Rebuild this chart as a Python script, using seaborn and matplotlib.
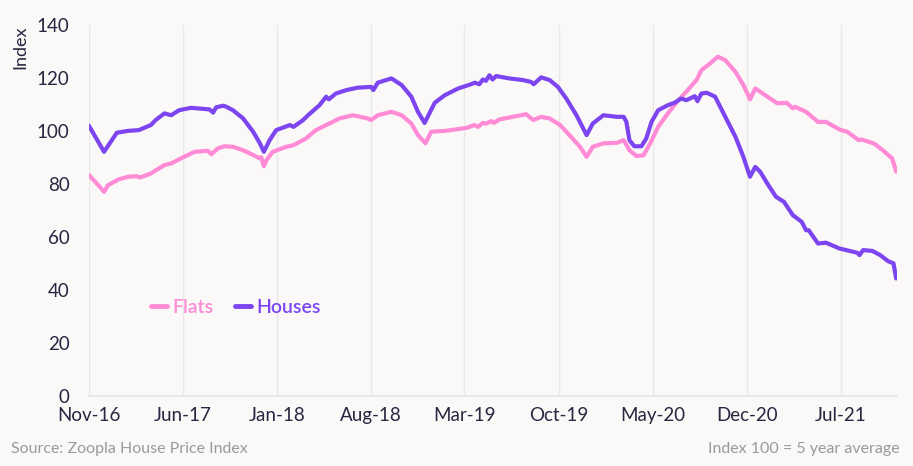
import pandas as pd
import matplotlib.pyplot as plt
import matplotlib.dates as mdates
import seaborn as sns

## Houses series (Index, 100 = 5 year average)
houses_dates = [
    "2016-11-01", "2016-12-05", "2017-01-03", "2017-01-28", "2017-02-22", "2017-03-21",
    "2017-04-01", "2017-04-21", "2017-05-06", "2017-05-24", "2017-06-20", "2017-08-01",
    "2017-08-09", "2017-08-16", "2017-09-01", "2017-09-08", "2017-09-23", "2017-10-16",
    "2017-11-08", "2017-11-23", "2017-12-02", "2017-12-15", "2017-12-30", "2018-01-30",
    "2018-02-07", "2018-03-01", "2018-03-10", "2018-04-07", "2018-04-22", "2018-04-28",
    "2018-05-14", "2018-06-07", "2018-07-02", "2018-08-02", "2018-08-07", "2018-08-17",
    "2018-09-17", "2018-10-10", "2018-11-01", "2018-11-16", "2018-12-01", "2018-12-24",
    "2019-01-16", "2019-02-15", "2019-03-16", "2019-03-25", "2019-04-04", "2019-04-12",
    "2019-04-19", "2019-04-27", "2019-05-04", "2019-05-12", "2019-06-11", "2019-07-11",
    "2019-07-30", "2019-08-05", "2019-08-22", "2019-09-10", "2019-09-29", "2019-10-18",
    "2019-11-10", "2019-12-03", "2019-12-17", "2020-01-10", "2020-02-10", "2020-02-25",
    "2020-03-02", "2020-03-09", "2020-03-20", "2020-04-05", "2020-04-16", "2020-04-28",
    "2020-05-13", "2020-06-04", "2020-06-19", "2020-07-04", "2020-07-16", "2020-08-04",
    "2020-08-10", "2020-08-19", "2020-08-31", "2020-09-19", "2020-10-12", "2020-11-04",
    "2020-11-22", "2020-12-07", "2020-12-19", "2020-12-30", "2021-01-15", "2021-02-04",
    "2021-02-22", "2021-03-14", "2021-04-03", "2021-04-13", "2021-04-19", "2021-05-10",
    "2021-05-28", "2021-06-28", "2021-08-07", "2021-08-12", "2021-08-20", "2021-09-10",
    "2021-09-28", "2021-10-16", "2021-10-28", "2021-11-03",
]
houses = [
    102.0, 92.2, 99.4, 100.1, 100.4, 102.3,
    104.2, 106.7, 106.0, 107.9, 108.8, 108.2,
    107.0, 109.0, 109.6, 109.2, 107.9, 104.8,
    99.7, 95.4, 92.2, 96.6, 100.4, 102.3,
    101.6, 104.2, 105.7, 109.8, 113.0, 112.0,
    114.2, 115.5, 116.4, 116.7, 115.5, 118.3,
    119.9, 117.4, 113.0, 107.3, 103.1, 110.7,
    113.6, 116.1, 117.7, 118.3, 117.7, 119.5,
    119.0, 121.1, 119.5, 120.8, 119.9, 119.3,
    118.6, 117.7, 120.3, 119.3, 116.7, 112.3,
    106.0, 98.5, 102.9, 106.0, 105.4, 105.4,
    103.5, 96.6, 94.3, 94.3, 97.2, 103.5,
    107.9, 109.8, 110.7, 112.3, 111.7, 113.2,
    111.3, 114.2, 114.5, 113.0, 105.4, 97.9,
    90.3, 82.8, 86.5, 84.7, 80.3, 75.2,
    73.3, 68.3, 65.8, 62.6, 62.6, 57.6,
    57.9, 55.7, 54.1, 53.2, 55.1, 54.8,
    53.2, 50.9, 50.1, 44.4,
]

## Flats series
flats_dates = [
    "2016-11-01", "2016-11-22", "2016-12-05", "2016-12-14", "2017-01-07", "2017-01-29",
    "2017-02-17", "2017-02-25", "2017-03-21", "2017-04-02", "2017-04-21", "2017-05-06",
    "2017-05-28", "2017-06-28", "2017-07-28", "2017-08-05", "2017-08-20", "2017-09-04",
    "2017-09-23", "2017-10-16", "2017-11-08", "2017-11-23", "2017-11-26", "2017-12-02",
    "2017-12-08", "2017-12-22", "2018-01-22", "2018-02-07", "2018-03-07", "2018-03-30",
    "2018-04-22", "2018-05-07", "2018-05-22", "2018-06-22", "2018-07-25", "2018-08-02",
    "2018-08-17", "2018-09-17", "2018-10-10", "2018-11-01", "2018-11-16", "2018-12-03",
    "2018-12-16", "2019-01-16", "2019-02-08", "2019-03-08", "2019-03-23", "2019-04-01",
    "2019-04-12", "2019-04-19", "2019-05-01", "2019-05-07", "2019-05-19", "2019-06-19",
    "2019-07-19", "2019-08-04", "2019-08-22", "2019-09-10", "2019-10-04", "2019-10-25",
    "2019-11-18", "2019-12-03", "2019-12-17", "2020-01-10", "2020-02-10", "2020-02-25",
    "2020-03-09", "2020-03-25", "2020-04-10", "2020-04-25", "2020-05-13", "2020-06-04",
    "2020-06-28", "2020-07-19", "2020-08-08", "2020-08-19", "2020-09-08", "2020-09-25",
    "2020-10-12", "2020-11-04", "2020-11-22", "2020-12-07", "2020-12-19", "2020-12-30",
    "2021-01-10", "2021-02-07", "2021-02-28", "2021-03-14", "2021-03-19", "2021-04-13",
    "2021-05-10", "2021-05-28", "2021-06-28", "2021-07-16", "2021-08-10", "2021-08-16",
    "2021-09-13", "2021-10-04", "2021-10-25", "2021-11-03",
]
flats = [
    83.4, 79.6, 77.1, 79.6, 81.8, 82.8,
    83.0, 82.5, 84.0, 85.3, 87.2, 87.8,
    89.7, 92.2, 92.6, 91.3, 93.5, 94.3,
    94.1, 92.8, 91.0, 89.7, 90.2, 86.8,
    89.1, 92.2, 94.1, 94.7, 97.2, 100.4,
    102.3, 103.5, 104.8, 106.0, 104.8, 104.2,
    106.0, 107.3, 106.0, 102.9, 98.5, 95.4,
    99.8, 100.1, 100.6, 101.3, 102.3, 101.6,
    103.1, 102.8, 103.8, 103.1, 104.4, 105.4,
    106.4, 104.2, 105.4, 104.8, 102.3, 98.5,
    94.1, 90.3, 94.1, 95.4, 95.6, 96.6,
    92.8, 90.6, 90.9, 95.4, 101.6, 106.7,
    111.7, 115.5, 119.3, 123.0, 125.6, 128.1,
    126.8, 122.4, 117.4, 112.0, 116.1, 114.9,
    113.6, 110.5, 110.7, 108.6, 109.2, 107.3,
    103.5, 103.5, 100.6, 99.7, 96.6, 96.9,
    95.4, 92.8, 89.7, 84.7,
]

tick_dates = ["2016-11-01", "2017-06-01", "2018-01-01", "2018-08-01", "2019-03-01",
              "2019-10-01", "2020-05-01", "2020-12-01", "2021-07-01"]

BG = "#faf9f8"
TEXT = "#2a2540"
FLATS_C = "#ff8ad6"
HOUSES_C = "#7c45f0"

df = pd.concat([
    pd.DataFrame({"date": pd.to_datetime(flats_dates), "index": flats, "type": "Flats"}),
    pd.DataFrame({"date": pd.to_datetime(houses_dates), "index": houses, "type": "Houses"}),
])

sns.set_theme(style="white")
plt.rcParams["font.family"] = ["Lato", "DejaVu Sans"]

fig = plt.figure(figsize=(9.13, 4.66), dpi=100, facecolor=BG)
ax = fig.add_axes([0.0975, 0.150, 0.885, 0.796])
ax.set_facecolor(BG)

sns.lineplot(
    data=df, x="date", y="index", hue="type",
    palette={"Flats": FLATS_C, "Houses": HOUSES_C},
    linewidth=3.0, ax=ax, legend=False,
)

ax.set_ylim(0, 140)
ax.set_yticks(range(0, 141, 20))
ax.set_xlim(pd.Timestamp("2016-11-01"), pd.Timestamp("2021-11-05"))
ax.set_xticks(pd.to_datetime(tick_dates))
ax.xaxis.set_major_formatter(mdates.DateFormatter("%b-%y"))
ax.tick_params(axis="both", length=0, labelsize=13.5, colors=TEXT, pad=8)
ax.tick_params(axis="y", pad=14)

ax.grid(axis="x", color="#ebe9e8", linewidth=1)
ax.grid(axis="y", visible=False)
for s in ["top", "right", "left"]:
    ax.spines[s].set_visible(False)
ax.spines["bottom"].set_color("#e6e4e3")
ax.spines["bottom"].set_linewidth(1.2)

ax.set_xlabel("")
ax.set_ylabel("")
fig.text(0.022, 0.945, "Index", rotation=90, ha="center", va="top", fontsize=13, color=TEXT)

# legend with coloured labels
handles = [
    plt.Line2D([], [], color=FLATS_C, linewidth=3.5, solid_capstyle="round"),
    plt.Line2D([], [], color=HOUSES_C, linewidth=3.5, solid_capstyle="round"),
]
leg = ax.legend(
    handles, ["Flats", "Houses"], loc="center left", bbox_to_anchor=(0.055, 0.24),
    ncol=2, frameon=False, handlelength=0.8, handletextpad=0.3, columnspacing=1.1,
    prop={"size": 14, "weight": "semibold"},
)
for txt, c in zip(leg.get_texts(), [FLATS_C, HOUSES_C]):
    txt.set_color(c)

fig.text(0.012, 0.028, "Source: Zoopla House Price Index", fontsize=11.5, color="#9a98a0")
fig.text(0.985, 0.028, "Index 100 = 5 year average", fontsize=11.5, color="#9a98a0", ha="right")

fig.savefig("out.png", dpi=100, facecolor=BG)
